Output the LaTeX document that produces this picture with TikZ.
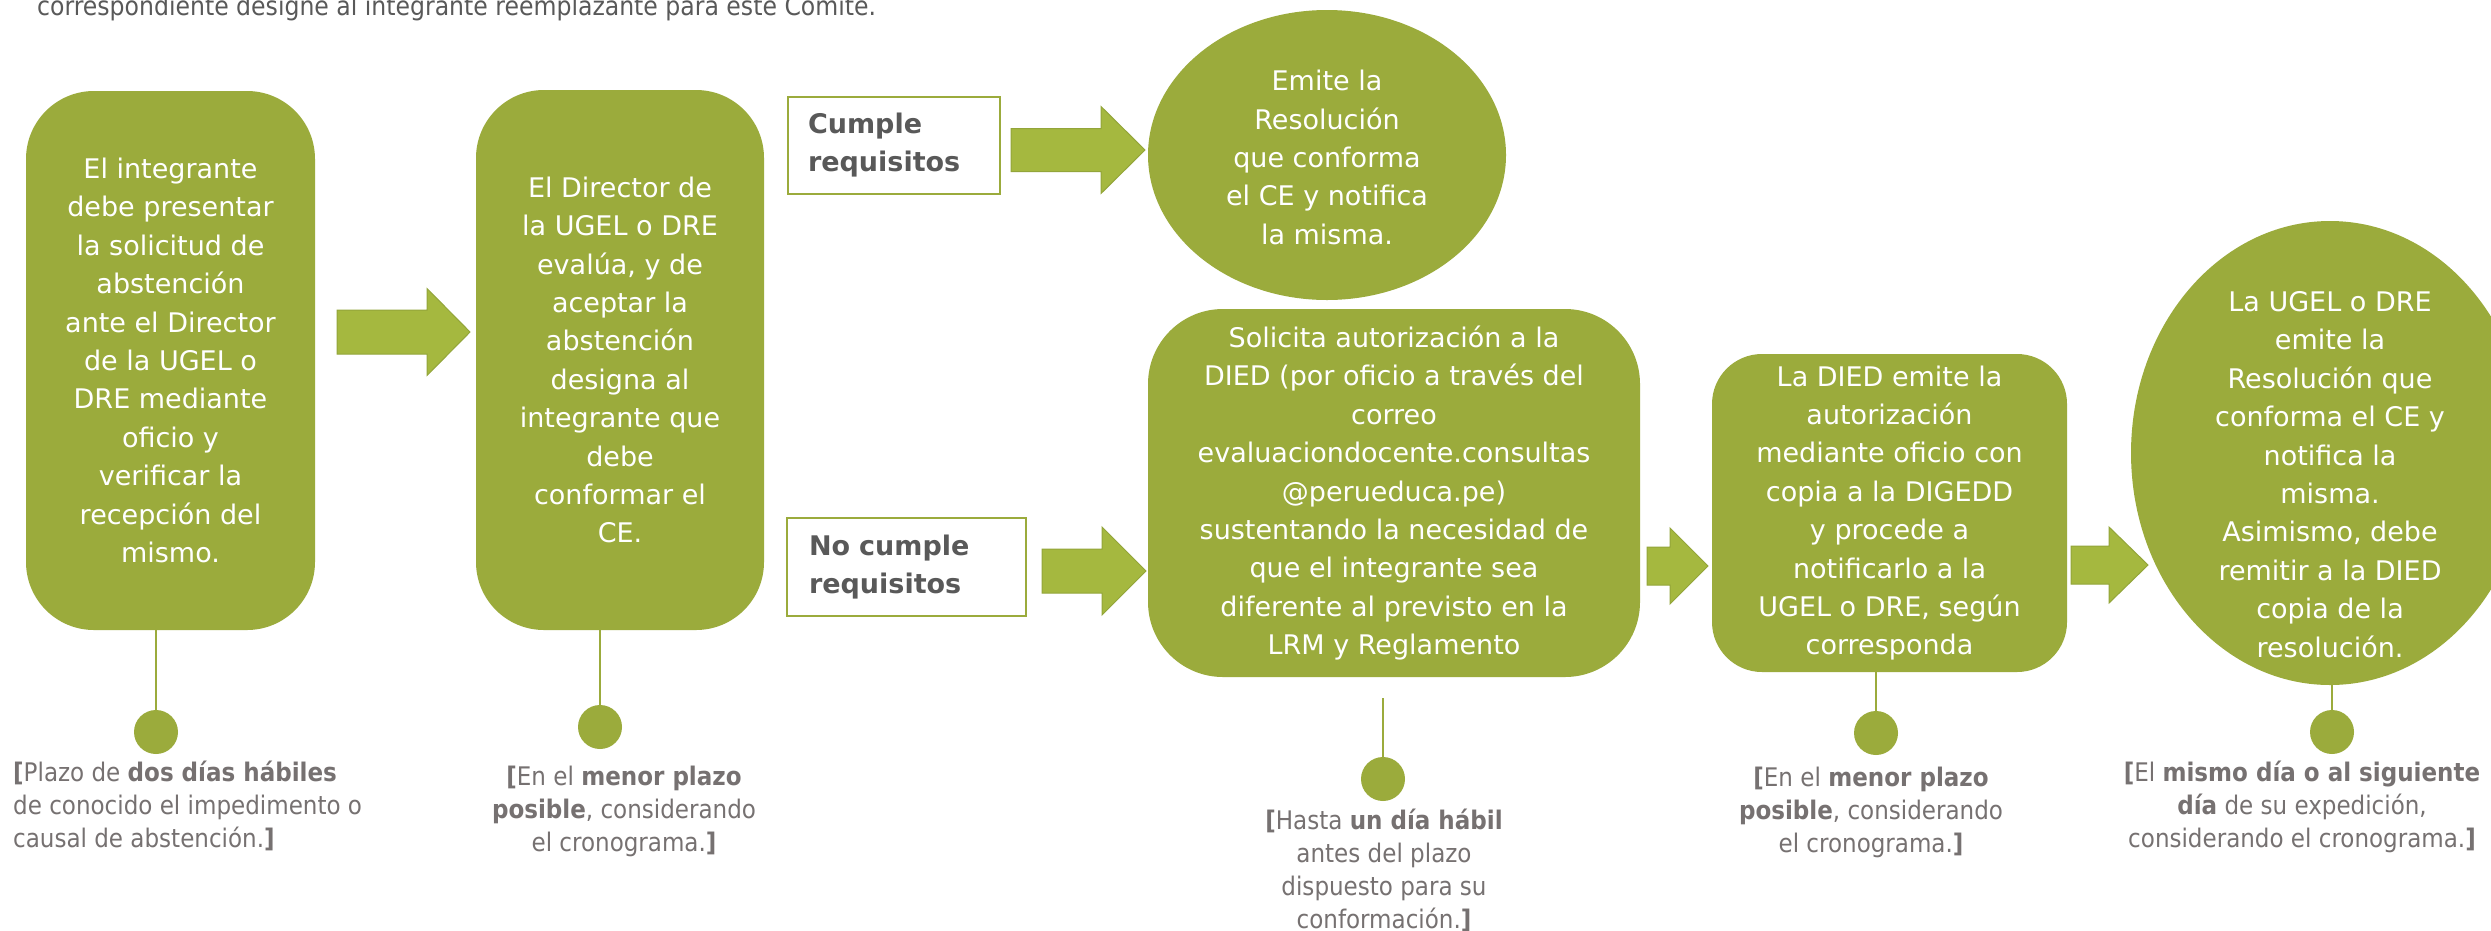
\documentclass[tikz,border=0pt]{standalone}
\usepackage{fontspec}
\setmainfont{DejaVu Sans}
\newfontfamily\angosta{DejaVu Sans Condensed}
\usepackage{tikz}
\usetikzlibrary{shapes.geometric}

\definecolor{oliva}{HTML}{9BAB3C}
\definecolor{flechaverde}{HTML}{A5B83F}
\definecolor{flechaborde}{HTML}{93A53A}
\definecolor{grisoscuro}{HTML}{595959}
\definecolor{gristexto}{HTML}{767171}

% block arrow: body start, head base, tip, y, half body, half head
\newcommand{\bloque}[6]{%
  \filldraw[flecha] (#1,#4-#5) -- (#2,#4-#5) -- (#2,#4-#6) -- (#3,#4)
    -- (#2,#4+#6) -- (#2,#4+#5) -- (#1,#4+#5) -- cycle;}

\begin{document}
\begin{tikzpicture}[x=1pt,y=-1pt,
    paso/.style={fill=oliva, text=white, rounded corners=#1, inner sep=0pt,
        align=center, font=\fontsize{27}{38.4}\selectfont},
    ovalo/.style={ellipse, fill=oliva, inner sep=0pt},
    texto/.style={text=white, inner sep=0pt, align=center,
        font=\fontsize{27}{38.4}\selectfont},
    etiqueta/.style={draw=oliva, line width=1.5pt, fill=white, inner sep=0pt,
        align=left, text=grisoscuro, font=\fontsize{27}{38}\selectfont\bfseries},
    flecha/.style={fill=flechaverde, draw=flechaborde, line width=1pt},
    punto/.style={circle, fill=oliva, inner sep=0pt, minimum size=44pt},
    tallo/.style={draw=oliva, line width=1.5pt},
    nota/.style={text=gristexto, inner sep=0pt, align=center,
        font=\angosta\fontsize{25.6}{33}\selectfont}
]
    \fill[white] (0,0) rectangle (2491,930);
    \useasboundingbox (0,0) rectangle (2491,930);

    \node[anchor=base west, text=grisoscuro, inner sep=0pt,
        font=\angosta\fontsize{26.2}{33}\selectfont] (intro) at (37,15)
        {correspondiente designe al integrante reemplazante para este Comité.};

    \node[paso=68, minimum width=289pt, minimum height=539pt] (integrante) at (170.5,360.5)
        {El integrante\\debe presentar\\la solicitud de\\abstención\\ante el Director\\de la UGEL o\\DRE mediante\\oficio y\\verificar la\\recepción del\\mismo.};
    \node[paso=68, minimum width=288pt, minimum height=540pt] (director) at (620,360)
        {El Director de\\la UGEL o DRE\\evalúa, y de\\aceptar la\\abstención\\designa al\\integrante que\\debe\\conformar el\\CE.};

    \node[etiqueta, minimum width=212pt, minimum height=97pt, text width=172pt] (cumple) at (894,145.5)
        {Cumple\\requisitos};
    \node[etiqueta, minimum width=239pt, minimum height=98pt, text width=195pt] (nocumple) at (906.5,567)
        {No cumple\\requisitos};

    \node[ovalo, minimum width=358pt, minimum height=290pt] (emite) at (1327,155) {};
    \node[texto] (emitetxt) at (1327,157.5)
        {Emite la\\Resolución\\que conforma\\el CE y notifica\\la misma.};

    \node[paso=75, minimum width=492pt, minimum height=368pt] (solicita) at (1394,493)
        {Solicita autorización a la\\DIED (por oficio a través del\\correo\\evaluaciondocente.consultas\\@perueduca.pe)\\sustentando la necesidad de\\que el integrante sea\\diferente al previsto en la\\LRM y Reglamento};
    \node[paso=50, minimum width=355pt, minimum height=318pt] (died) at (1889.5,513)
        {La DIED emite la\\autorización\\mediante oficio con\\copia a la DIGEDD\\y procede a\\notificarlo a la\\UGEL o DRE, según\\corresponda};

    \node[ovalo, minimum width=398pt, minimum height=464pt] (ugel) at (2330,453) {};
    \node[texto] (ugeltxt) at (2330,474.5)
        {La UGEL o DRE\\emite la\\Resolución que\\conforma el CE y\\notifica la\\misma.\\Asimismo, debe\\remitir a la DIED\\copia de la\\resolución.};

    \bloque{337}{427}{470}{332}{22}{43.5}
    \bloque{1011}{1101}{1145}{150}{21.5}{43.5}
    \bloque{1042}{1102}{1146}{571}{22}{44}
    \bloque{1647}{1670}{1708}{566}{19}{38}
    \bloque{2071}{2109}{2148}{565}{19}{38}

    \node[punto] (p1) at (156,732) {};
    \node[punto] (p2) at (600,727) {};
    \node[punto] (p3) at (1383,779) {};
    \node[punto] (p4) at (1876,733) {};
    \node[punto] (p5) at (2332,732) {};
    \coordinate (c3) at (1383,698);

    \draw[tallo] (p1 |- integrante.south) -- (p1.north);
    \draw[tallo] (p2 |- director.south) -- (p2.north);
    \draw[tallo] (c3) -- (p3.north);
    \draw[tallo] (p4 |- died.south) -- (p4.north);
    \draw[tallo] (p5 |- ugel.south) -- (p5.north);

    \node[nota, anchor=west, align=left] (n1) at (13,806)
        {\textbf{[}Plazo de \textbf{dos días hábiles}\\de conocido el impedimento o\\causal de abstención.\textbf{]}};
    \node[nota] (n2) at (624,811)
        {\textbf{[}En el \textbf{menor plazo}\\\textbf{posible}, considerando\\el cronograma.\textbf{]}};
    \node[nota] (n3) at (1384,870)
        {\textbf{[}Hasta \textbf{un día hábil}\\antes del plazo\\dispuesto para su\\conformación.\textbf{]}};
    \node[nota] (n4) at (1871,812)
        {\textbf{[}En el \textbf{menor plazo}\\\textbf{posible}, considerando\\el cronograma.\textbf{]}};
    \node[nota] (n5) at (2302,807)
        {\textbf{[}El \textbf{mismo día o al siguiente}\\\textbf{día} de su expedición,\\considerando el cronograma.\textbf{]}};
\end{tikzpicture}
\end{document}
